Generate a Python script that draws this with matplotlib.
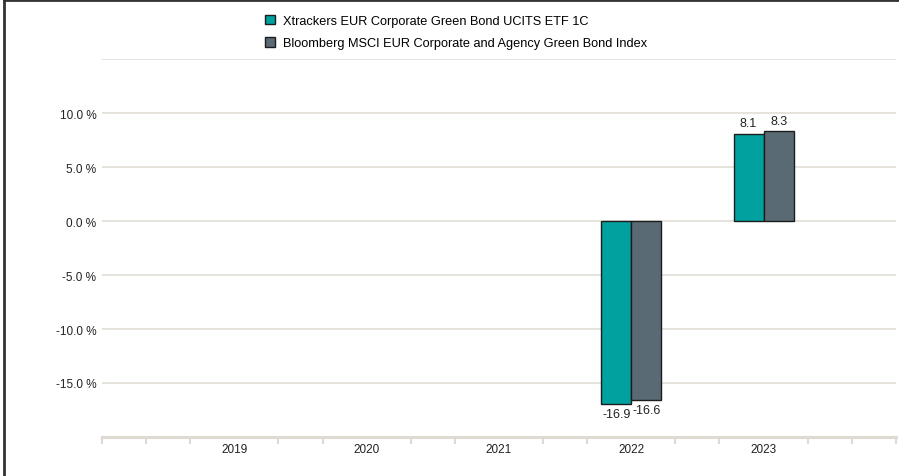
import matplotlib
matplotlib.use('Agg')
from matplotlib import pyplot as plt
import numpy as np

plt.rcParams['font.family'] = ['Liberation Sans', 'DejaVu Sans']

years = ['2019', '2020', '2021', '2022', '2023']
fund_y = [np.nan, np.nan, np.nan, -16.9, 8.1]
index_y = [np.nan, np.nan, np.nan, -16.6, 8.3]
fund_name = 'Xtrackers EUR Corporate Green Bond UCITS ETF 1C'
index_name = 'Bloomberg MSCI EUR Corporate and Agency Green Bond Index'

x_indexes = np.arange(1, len(years) + 1)
width = 0.227

fig = plt.figure(figsize=(8.99, 4.77), dpi=100)
ax = fig.add_axes([0.1135, 0.0818, 0.883, 0.7922])

grid_c = '#e4e1da'
for v in [-15, -10, -5, 0, 5, 10, 15]:
    ax.axhline(v, color=grid_c, lw=1.3, zorder=0)

b1 = ax.bar(x_indexes - width / 2, fund_y, width=width, color='#00a19f',
            edgecolor='#1c1c1c', lw=1, label=fund_name, zorder=3)
b2 = ax.bar(x_indexes + width / 2, index_y, width=width, color='#5a6a75',
            edgecolor='#1c1c1c', lw=1, label=index_name, zorder=3)

# value labels
for bars, vals in [(b1, fund_y), (b2, index_y)]:
    for rect, v in zip(bars, vals):
        if np.isnan(v):
            continue
        cx = rect.get_x() + rect.get_width() / 2
        if v >= 0:
            ax.annotate(f'{v:.1f}', (cx, v), xytext=(0, 3), textcoords='offset points',
                        ha='center', va='bottom', fontsize=9, color='#222222')
        else:
            ax.annotate(f'{v:.1f}', (cx, v), xytext=(0, -3), textcoords='offset points',
                        ha='center', va='top', fontsize=9, color='#222222')

ax.set_xlim(0, 6)
ax.set_ylim(-20, 15)
ax.set_yticks([-15, -10, -5, 0, 5, 10])
ax.set_yticklabels([f'{v:.1f} %' for v in [-15, -10, -5, 0, 5, 10]])
ax.set_xticks(x_indexes)
ax.set_xticklabels(years)
minor = [t / 3 for t in range(0, 19) if t % 3 != 0 or t in (0, 18)]
ax.set_xticks(minor, minor=True)

ax.tick_params(axis='y', length=0, pad=4, labelsize=8.5, labelcolor='#222222')
ax.tick_params(axis='x', which='major', length=0, pad=4, labelsize=8.5, labelcolor='#222222')
ax.tick_params(axis='x', which='minor', length=5, width=1.5, color='#dedad2')

for s in ['top', 'right', 'left']:
    ax.spines[s].set_visible(False)
ax.spines['bottom'].set_color('#dedad2')
ax.spines['bottom'].set_linewidth(2.2)

fig.legend(handles=[b1, b2], loc='upper left', bbox_to_anchor=(0.289, 0.977),
           frameon=False, fontsize=9.2, handlelength=0.75, handleheight=0.75,
           handletextpad=0.7, labelspacing=0.78, borderaxespad=0)

# outer frame lines (top and left)
fig.add_artist(plt.Line2D([0.005, 1], [0.997, 0.997], transform=fig.transFigure,
                          color='#333333', lw=2))
fig.add_artist(plt.Line2D([0.005, 0.005], [0, 0.997], transform=fig.transFigure,
                          color='#333333', lw=2))

fig.savefig('out.png', dpi=100)
